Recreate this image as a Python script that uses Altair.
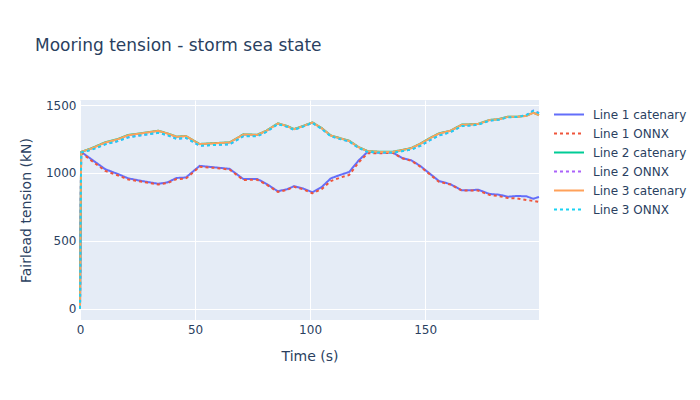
import altair as alt
import pandas as pd

times = [0, 0.5, 5, 11, 16, 21, 27, 34, 38, 42, 46, 52, 58, 65, 71, 77, 81, 86, 90, 93, 97,
         101, 105, 109, 113, 117, 121, 125, 130, 136, 140, 144, 148, 152, 156, 161, 166, 170,
         173, 178, 182, 186, 190, 194, 197, 199.5]

line1_cat = [0, 1155, 1100, 1027, 995, 960, 940, 920, 930, 963, 966, 1052, 1042, 1030, 955, 956,
             920, 865, 880, 902, 885, 858, 895, 960, 985, 1007, 1090, 1155, 1150, 1150, 1110, 1093,
             1050, 995, 941, 917, 872, 872, 877, 845, 840, 825, 830, 828, 810, 823]
line1_onnx = [0, 1150, 1090, 1015, 985, 952, 935, 915, 925, 955, 958, 1045, 1038, 1025, 948, 950,
              915, 860, 875, 898, 880, 850, 880, 940, 965, 985, 1075, 1145, 1145, 1148, 1108, 1090,
              1045, 990, 935, 915, 870, 870, 870, 838, 830, 815, 812, 800, 795, 786]
line2_cat = [0, 1155, 1182, 1226, 1247, 1280, 1293, 1311, 1291, 1267, 1272, 1213, 1219, 1225, 1284,
             1281, 1311, 1365, 1346, 1323, 1346, 1372, 1331, 1276, 1256, 1237, 1191, 1161, 1156,
             1156, 1169, 1183, 1216, 1256, 1291, 1311, 1356, 1358, 1361, 1390, 1396, 1414, 1414,
             1421, 1444, 1426]
line2_onnx = [0, 1150, 1172, 1212, 1233, 1263, 1279, 1296, 1279, 1251, 1259, 1201, 1206, 1211, 1271,
              1271, 1303, 1361, 1341, 1319, 1343, 1369, 1326, 1271, 1251, 1233, 1186, 1156, 1151,
              1151, 1161, 1173, 1201, 1241, 1276, 1301, 1346, 1351, 1356, 1386, 1393, 1411, 1413,
              1426, 1459, 1441]
line3_cat = [0, 1155, 1180, 1224, 1245, 1278, 1292, 1310, 1290, 1266, 1271, 1212, 1218, 1224, 1283,
             1280, 1310, 1364, 1345, 1322, 1345, 1371, 1330, 1275, 1255, 1236, 1190, 1160, 1155,
             1155, 1168, 1182, 1215, 1255, 1290, 1310, 1355, 1357, 1360, 1389, 1395, 1413, 1413,
             1420, 1443, 1425]
line3_onnx = [0, 1150, 1170, 1210, 1232, 1262, 1278, 1295, 1278, 1250, 1258, 1200, 1205, 1210, 1270,
              1270, 1302, 1360, 1340, 1318, 1342, 1368, 1325, 1270, 1250, 1232, 1185, 1155, 1150,
              1150, 1160, 1172, 1200, 1240, 1275, 1300, 1345, 1350, 1355, 1385, 1392, 1410, 1412,
              1425, 1458, 1440]

series_names = ["Line 1 catenary", "Line 1 ONNX", "Line 2 catenary", "Line 2 ONNX",
                "Line 3 catenary", "Line 3 ONNX"]
series_values = [line1_cat, line1_onnx, line2_cat, line2_onnx, line3_cat, line3_onnx]
colors = ["#636efa", "#EF553B", "#00cc96", "#ab63fa", "#FFA15A", "#19d3f3"]
dashes = [[1, 0], [3, 3], [1, 0], [3, 3], [1, 0], [3, 3]]

rows = []
for i, (name, vals) in enumerate(zip(series_names, series_values)):
    for t, v in zip(times, vals):
        rows.append({"series": name, "order": i, "time": t, "tension": v})
df = pd.DataFrame(rows)

font = "DejaVu Sans"
txt = "#2a3f5f"

chart = alt.Chart(df).mark_line(strokeWidth=2, strokeJoin="round").encode(
    x=alt.X("time:Q", title="Time (s)",
            scale=alt.Scale(domain=[0, 199.5], nice=False, zero=False),
            axis=alt.Axis(values=[0, 50, 100, 150], grid=True, format="d", labelFlush=False)),
    y=alt.Y("tension:Q", title="Fairlead tension (kN)",
            scale=alt.Scale(domain=[-83, 1537], nice=False, zero=False),
            axis=alt.Axis(values=[0, 500, 1000, 1500], grid=True, format="d", labelFlush=False)),
    color=alt.Color("series:N", title=None,
                    scale=alt.Scale(domain=series_names, range=colors),
                    legend=alt.Legend(orient="none", legendX=473, legendY=6,
                                      symbolType="stroke", symbolSize=900,
                                      symbolStrokeWidth=2, rowPadding=2, clipHeight=17,
                                      labelFontSize=12, labelColor=txt, labelFont=font,
                                      labelOffset=8)),
    strokeDash=alt.StrokeDash("series:N", title=None,
                              scale=alt.Scale(domain=series_names, range=dashes),
                              legend=None),
    order=alt.Order("order:Q"),
    detail="series:N",
).properties(
    width=459,
    height=220,
    autosize=alt.AutoSizeParams(type="none"),
    padding={"left": 72, "top": 92, "right": 150, "bottom": 70},
    title=alt.Title("Mooring tension - storm sea state", anchor="start", frame="group",
                    dx=-45, offset=44, fontSize=17, font=font, color=txt, fontWeight="normal"),
).configure_view(
    fill="#E5ECF6", stroke=None
).configure_axis(
    domain=False, ticks=False, gridColor="white", gridWidth=1,
    labelFont=font, labelFontSize=12, labelColor=txt,
    titleFont=font, titleFontSize=14, titleColor=txt, titleFontWeight="normal",
).configure_axisX(
    labelPadding=4, titlePadding=14,
).configure_axisY(
    labelPadding=4, titlePadding=12,
)

chart.save("out.html", embed_options={"renderer": "svg", "actions": False})
